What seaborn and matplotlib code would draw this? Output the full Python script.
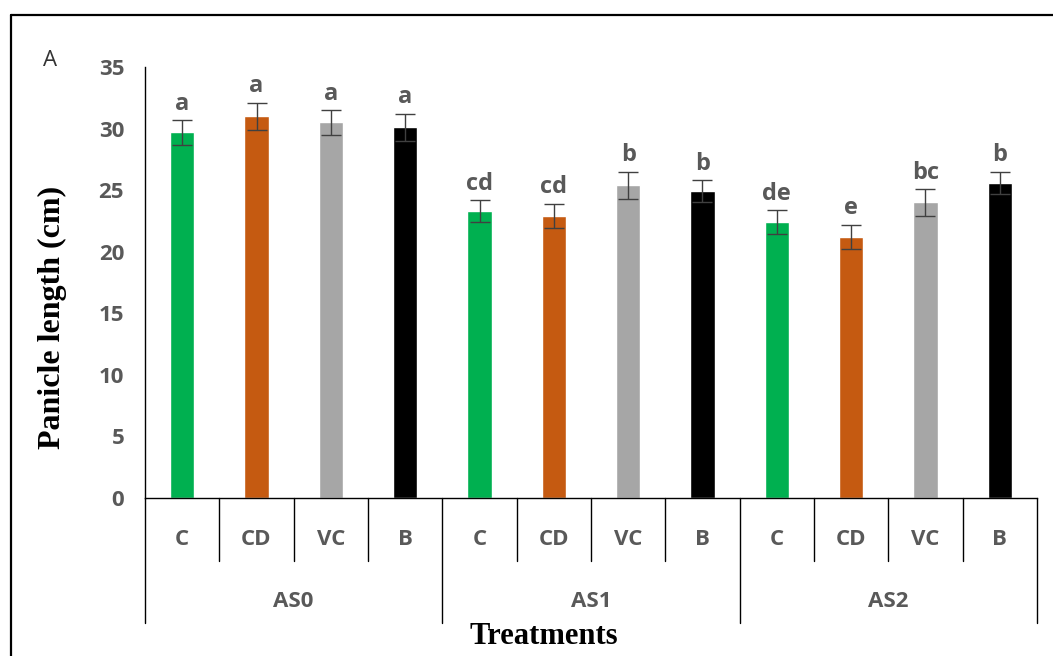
import matplotlib.pyplot as plt
import seaborn as sns
import pandas as pd
from matplotlib.lines import Line2D
from matplotlib.transforms import blended_transform_factory

# Panicle length per arsenic level and treatment
groups = ['AS0', 'AS1', 'AS2']
treatments = ['C', 'CD', 'VC', 'B']
means = [29.7, 31.0, 30.5, 30.1,
         23.3, 22.9, 25.4, 24.9,
         22.4, 21.2, 24.0, 25.6]
errors = [1.0, 1.1, 1.0, 1.1,
          0.9, 1.0, 1.1, 0.9,
          1.0, 1.0, 1.1, 0.9]
letters = ['a', 'a', 'a', 'a',
           'cd', 'cd', 'b', 'b',
           'de', 'e', 'bc', 'b']
colors = {'C': '#00B050', 'CD': '#C55A11', 'VC': '#A6A6A6', 'B': '#000000'}

rows = []
for gi, g in enumerate(groups):
    for ti, t in enumerate(treatments):
        k = gi * len(treatments) + ti
        rows.append({'group': g, 'treatment': t, 'pos': g + '_' + t,
                     'mean': means[k], 'err': errors[k], 'letter': letters[k]})
df = pd.DataFrame(rows)

sns.set_style('white')
plt.rcParams['font.family'] = ['Open Sans', 'DejaVu Sans']

fig = plt.figure(figsize=(10.53, 6.56), dpi=100)
ax = fig.add_axes([145 / 1053, 1 - 498 / 656, (1037 - 145) / 1053, (498 - 67) / 656])

sns.barplot(data=df, x='pos', y='mean', hue='treatment', palette=colors,
            dodge=False, width=0.33, legend=False, ax=ax, saturation=1)
ax.errorbar(range(len(df)), df['mean'], yerr=df['err'], fmt='none',
            ecolor='#404040', elinewidth=1, capsize=7, capthick=1)
for i, r in df.iterrows():
    ax.text(i, r['mean'] + r['err'] + 0.35, r['letter'], ha='center', va='bottom',
            fontsize=17, fontweight='bold', color='#595959')

ax.set_ylim(0, 35)
ax.set_xlim(-0.5, len(df) - 0.5)
ax.set_yticks(range(0, 36, 5))
ax.tick_params(axis='y', direction='out', length=7, width=1, colors='black',
               labelsize=16, labelcolor='#595959', pad=8)
for lab in ax.get_yticklabels():
    lab.set_fontweight('bold')
ax.set_xticks([])
ax.set_xlabel('')
ax.set_ylabel('Panicle length (cm)', family='Liberation Serif', fontsize=23,
              fontweight='bold', color='black')
ax.yaxis.set_label_coords(-0.088, 0.418)
sns.despine(ax=ax)
for s in ['left', 'bottom']:
    ax.spines[s].set_color('black')
    ax.spines[s].set_linewidth(1)

# category brackets under the axis
tr = blended_transform_factory(ax.transData, ax.transAxes)
n = len(df)
for i in range(n + 1):
    bottom = -0.29 if i % len(treatments) == 0 else -0.146
    ax.plot([i - 0.5, i - 0.5], [0, bottom], transform=tr, color='black',
            lw=1, clip_on=False)
for i, r in df.iterrows():
    ax.text(i, -0.097, r['treatment'], transform=tr, ha='center', va='center',
            fontsize=16, fontweight='bold', color='#595959')
for gi, g in enumerate(groups):
    c = gi * len(treatments) + (len(treatments) - 1) / 2
    ax.text(c, -0.241, g, transform=tr, ha='center', va='center',
            fontsize=16, fontweight='bold', color='#595959')
ax.text(0.447, -0.3225, 'Treatments', transform=ax.transAxes, ha='center',
        va='center', family='Liberation Serif', fontsize=22, fontweight='bold',
        color='black')

fig.text(50 / 1053, 1 - 60 / 656, 'A', ha='center', va='center', fontsize=16,
         color='#333333')

# outer frame (top and left edges)
fig.add_artist(Line2D([11 / 1053, 1], [1 - 15 / 656, 1 - 15 / 656], color='black', lw=1.6))
fig.add_artist(Line2D([11 / 1053, 11 / 1053], [0, 1 - 15 / 656], color='black', lw=1.6))

fig.savefig('out.png', dpi=100)
